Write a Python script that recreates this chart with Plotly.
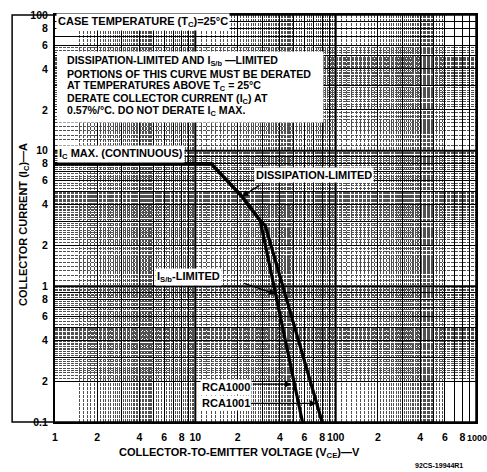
import numpy as np
import plotly.graph_objects as go

# ---------------- data ----------------
vce_rca1000 = [1, 13, 21.5, 29, 58]
ic_rca1000 = [8, 8, 4.6, 3.05, 0.1]
vce_rca1001 = [1, 13, 21.5, 29, 31.5, 80]
ic_rca1001 = [8, 8, 4.6, 3.05, 2.8, 0.1]

x_tickvals = [1, 2, 3, 4, 5, 6, 7, 8, 9, 10, 20, 30, 40, 50, 60, 70, 80, 90,
              100, 200, 300, 400, 500, 600, 700, 800, 900]
x_ticktext = ["1", "2", " ", "4", " ", "6", " ", "8", " ", "10", "2", " ", "4", " ", "6", " ", "8", " ",
              "100", "2", " ", "4", " ", "6", " ", "8", " "]
x_last_label = "1000"
y_tickvals = [0.1, 0.2, 0.3, 0.4, 0.5, 0.6, 0.7, 0.8, 0.9, 1, 2, 3, 4, 5, 6, 7, 8, 9,
              10, 20, 30, 40, 50, 60, 70, 80, 90, 100]
y_ticktext = ["0.1", "2", " ", "4", " ", "6", " ", "8", " ", "1", "2", " ", "4", " ", "6", " ", "8", " ",
              "10", "2", " ", "4", " ", "6", " ", "8", " ", "100"]

note_lines = [
    "DISSIPATION-LIMITED AND I<sub>S/b</sub> —LIMITED",
    "PORTIONS OF THIS CURVE MUST BE DERATED",
    "AT TEMPERATURES ABOVE T<sub>C</sub> = 25°C",
    "DERATE COLLECTOR CURRENT (I<sub>C</sub>) AT",
    "0.57%/°C. DO NOT DERATE I<sub>C</sub> MAX.",
]


# fine graph-paper rulings
def fine_lines(decades, lo, hi):
    vals = []
    for d in decades:
        for m in list(np.arange(1.1, 5.0, 0.1)) + list(np.arange(5.25, 10.0, 0.25)):
            v = round(m * d, 6)
            if lo <= v <= hi and abs(m - round(m)) > 1e-6:
                vals.append(v)
    return vals


x_minor = fine_lines([1, 10, 100], 1.5, 600)
y_minor = fine_lines([0.1, 1, 10], 0.2, 60)

FONT = "Liberation Sans"
L, R, T, B = 55, 10, 9, 50
W, H = 487, 472
PW, PH = W - L - R, H - T - B


def px(x):
    return (x - L) / PW


def py(y):
    return (H - B - y) / PH


fig = go.Figure()
fig.add_trace(go.Scatter(x=vce_rca1001, y=ic_rca1001, mode="lines", name="RCA1001",
                         line=dict(color="black", width=3.2), showlegend=False))
fig.add_trace(go.Scatter(x=vce_rca1000, y=ic_rca1000, mode="lines", name="RCA1000",
                         line=dict(color="black", width=3.2), showlegend=False))

axis_common = dict(type="log", showgrid=True, gridcolor="black", gridwidth=1,
                   showline=True, linecolor="black", linewidth=2, mirror=True,
                   ticks="", tickangle=0,
                   tickfont=dict(family=FONT, size=10.5, color="black", weight="bold"),
                   zeroline=False)

fig.update_xaxes(range=[0, 3], tickmode="array", tickvals=x_tickvals, ticktext=x_ticktext,
                 ticklabelstandoff=4,
                 minor=dict(tickmode="array", tickvals=x_minor, showgrid=True,
                            gridcolor="#505050", gridwidth=1, griddash="3px,1px", ticks=""),
                 **axis_common)
fig.update_yaxes(range=[-1, 2], tickmode="array", tickvals=y_tickvals, ticktext=y_ticktext,
                 ticklabelstandoff=3,
                 minor=dict(tickmode="array", tickvals=y_minor, showgrid=True,
                            gridcolor="#505050", gridwidth=1, griddash="3px,1px", ticks=""),
                 **axis_common)

shapes = []
# heavier decade rulings
for v in [10, 100]:
    shapes.append(dict(type="line", xref="x", yref="paper", x0=v, x1=v, y0=0, y1=1,
                       line=dict(color="black", width=2), layer="below"))
for v in [1, 10]:
    shapes.append(dict(type="line", xref="paper", yref="y", x0=0, x1=1, y0=v, y1=v,
                       line=dict(color="black", width=2), layer="below"))
# outer frame enclosing the y-axis title
shapes.append(dict(type="rect", xref="paper", yref="paper", x0=px(12), x1=1, y0=0, y1=1,
                   line=dict(color="black", width=1.5)))
# white note box
shapes.append(dict(type="rect", xref="paper", yref="paper", x0=px(57), x1=px(324),
                   y0=py(118), y1=py(46), fillcolor="white", line=dict(width=0), layer="above"))
fig.update_layout(shapes=shapes)

TF = dict(family=FONT, size=11, color="black", weight="bold")
ann = []


def label(text, x, y, xanchor="left", bg="white", size=11, pad=1, **kw):
    f = dict(TF)
    f["size"] = size
    ann.append(dict(text=text, xref="paper", yref="paper", x=px(x), y=py(y), xanchor=xanchor,
                    yanchor="middle", showarrow=False, font=f, bgcolor=bg, borderpad=pad, **kw))


label("CASE TEMPERATURE (T<sub>C</sub>)=25°C", 56, 16)
for i, line in enumerate(note_lines):
    label(line, 66, 56 + i * 12.6, bg="rgba(0,0,0,0)", size=10.6, pad=0)
label("I<sub>C</sub> MAX. (CONTINUOUS)", 57, 150)
label("DISSIPATION-LIMITED", 254, 171)
label("I<sub>S/b</sub>-LIMITED", 155, 275)
label("RCA1000", 200, 386)
label("RCA1001", 200, 403)
label(x_last_label, 467, 438, xanchor="left", bg="rgba(0,0,0,0)", size=9, pad=0)


def arrow(xv, yv, ax, ay):
    ann.append(dict(x=np.log10(xv), y=np.log10(yv), xref="x", yref="y", text="",
                    showarrow=True, arrowhead=2, arrowsize=1, arrowwidth=1.3,
                    arrowcolor="black", ax=ax, ay=ay, standoff=0))


arrow(vce_rca1000[2], ic_rca1000[2], 19, -12)
arrow(37.3, 0.88, -33, -11)
arrow(48.3, 0.19, -40, 0)
arrow(72.8, 0.137, -67, 0)

# axis titles and figure number
ann.append(dict(text="COLLECTOR-TO-EMITTER VOLTAGE (V<sub>CE</sub>)—V", xref="paper", yref="paper",
                x=px(240), y=py(453), xanchor="center", yanchor="middle", showarrow=False,
                font=dict(family=FONT, size=11, color="black", weight="bold")))
ann.append(dict(text="COLLECTOR CURRENT (I<sub>C</sub>)—A", xref="paper", yref="paper",
                x=px(24), y=py(222), xanchor="center", yanchor="middle", textangle=-90,
                showarrow=False, font=dict(family=FONT, size=11, color="black", weight="bold")))
ann.append(dict(text="92CS-19944R1", xref="paper", yref="paper", x=px(440), y=py(466),
                xanchor="center", yanchor="middle", showarrow=False, borderpad=0,
                font=dict(family=FONT, size=7, color="black", weight="bold")))

fig.update_layout(annotations=ann, width=W, height=H,
                  margin=dict(l=L, r=R, t=T, b=B),
                  plot_bgcolor="white", paper_bgcolor="white", showlegend=False)

fig.write_html("out.html", config={"displayModeBar": False},
               post_script="document.body.style.margin='0px';document.body.style.overflow='hidden';")
